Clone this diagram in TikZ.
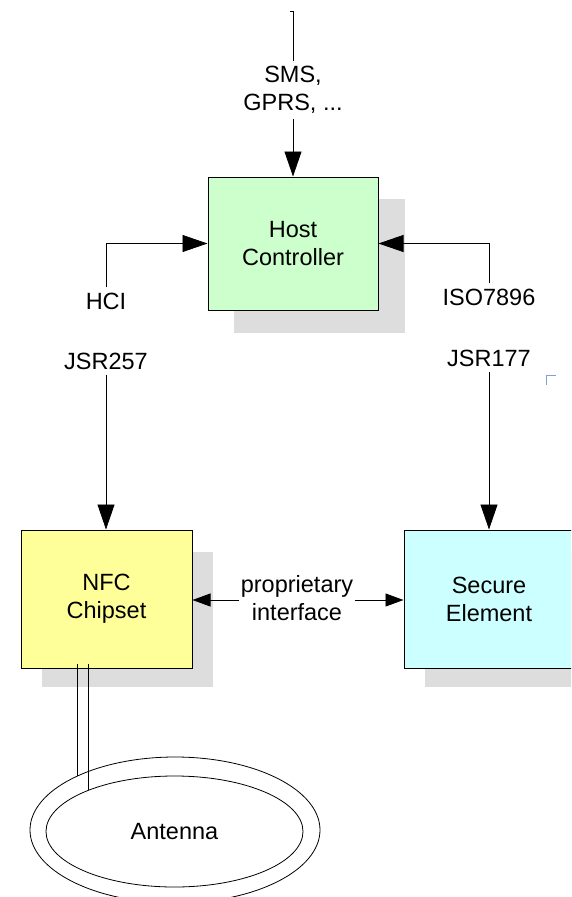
\documentclass[tikz,border=0pt]{standalone}
\usepackage{fontspec}
\setmainfont{Liberation Sans}
\usetikzlibrary{arrows.meta,shapes.geometric,shadows}
\definecolor{hostgreen}{HTML}{CCFFCC}
\definecolor{nfcyellow}{HTML}{FFFF99}
\definecolor{secyan}{HTML}{CCFFFF}
\definecolor{shadowgray}{HTML}{DDDDDD}
\definecolor{markblue}{HTML}{7FA0E0}
\tikzset{
  txt/.style={font=\fontsize{23.5}{28}\selectfont, align=center},
  lbl/.style={txt, inner sep=5pt},
  blockbox/.style={txt, draw=black, line width=1pt, inner sep=0pt},
  bigarrow/.style={-{Triangle[length=25pt,width=17pt]}, line width=0.8pt},
  smallarrow/.style={-{Triangle[length=18pt,width=13pt]}, line width=0.8pt},
  wire/.style={line width=0.8pt},
}
\begin{document}
\begin{tikzpicture}[x=1pt,y=-1pt]
\useasboundingbox (0,0) rectangle (571,897);
\begin{scope}
\clip (0,0) rectangle (571,897);
% shadows
\fill[shadowgray] (234,199) rectangle (405,333);
\fill[shadowgray] (42,552) rectangle (213,687);
\fill[shadowgray] (425,552) rectangle (596,687);
% boxes
\node[blockbox, fill=hostgreen, minimum width=170pt, minimum height=133pt] (host) at (293,243.5) {Host\\Controller};
\node[blockbox, fill=nfcyellow, minimum width=171pt, minimum height=138pt] (nfc) at (106.5,599) {NFC\\Chipset};
\node[blockbox, fill=secyan, minimum width=170pt, minimum height=138pt] (se) at (489,599) {Secure\\Element};
% labels
\node[lbl] (sms) at (293,90) {SMS,\\GPRS, ...};
\node[lbl] (hci) at (106,301) {HCI};
\node[lbl] (jsr257) at (106,361) {JSR257};
\node[lbl] (iso) at (489,297) {ISO7896};
\node[lbl] (jsr177) at (489,358) {JSR177};
\node[txt, inner sep=1.5pt] (prop) at (297,598) {proprietary\\interface};
% antenna
\node[ellipse, draw, line width=0.8pt, minimum width=290pt, minimum height=146pt, inner sep=0pt] (antout) at (175,830) {};
\node[ellipse, draw, line width=0.8pt, minimum width=257pt, minimum height=111pt, inner sep=0pt, txt] (antin) at (174.5,831.5) {Antenna};
% connectors
\coordinate (feed) at (293,11);
\draw[wire] ([xshift=-3pt]feed) -- (feed) -- (sms.north);
\draw[bigarrow] (sms.south) -- (host.north);
\draw[bigarrow] (hci.north) |- (host.west);
\draw[bigarrow] (iso.north) |- (host.east);
\draw[bigarrow] (jsr257.south) -- (jsr257.south |- nfc.north);
\draw[bigarrow] (jsr177.south) -- (jsr177.south |- se.north);
\draw[smallarrow] (prop.west |- 0,600) -- (nfc.east |- 0,600);
\draw[smallarrow] (prop.east |- 0,600) -- (se.west |- 0,600);
% antenna leads
\draw[wire] ([yshift=5pt]nfc.south -| antout.151) -- (antout.151);
\draw[wire] ([yshift=5pt]nfc.south -| antin.154) -- (antin.154);
% stray corner mark
\draw[markblue, line width=1pt] (556,375) -- (546,375) -- (546,385);
\end{scope}
\end{tikzpicture}
\end{document}
